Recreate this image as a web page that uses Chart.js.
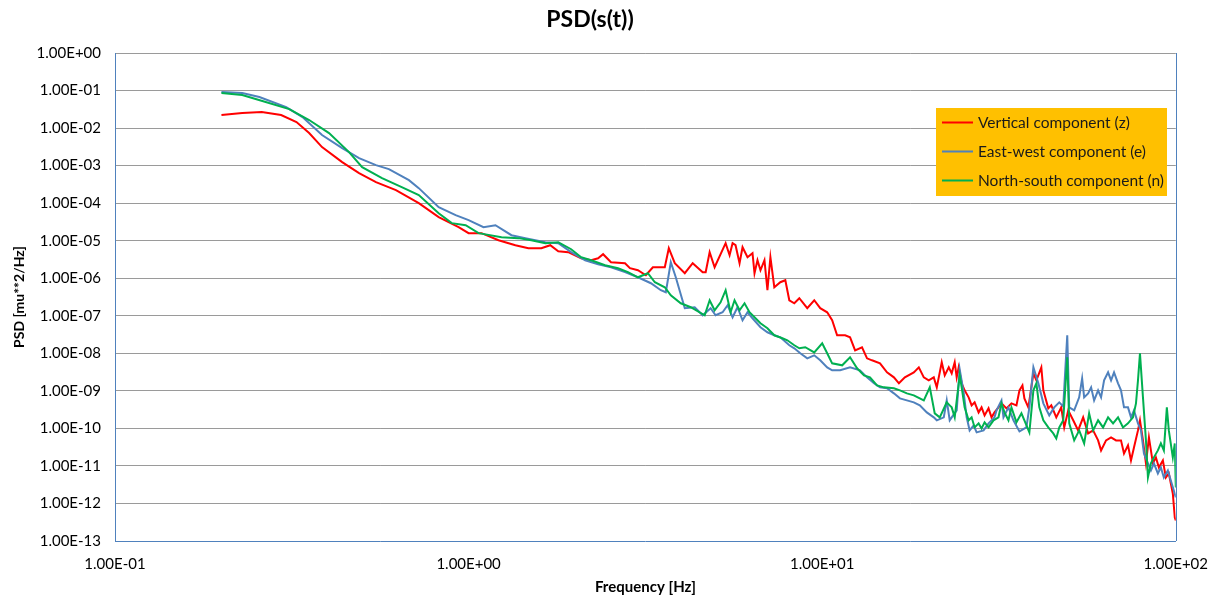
<!DOCTYPE html>
<html>
<head>
<meta charset="utf-8">
<script src="https://cdn.jsdelivr.net/npm/chart.js@4.4.1/dist/chart.umd.min.js"></script>
<style>
html,body{margin:0;padding:0;background:#fff;}
#wrap{position:relative;width:1222px;height:604px;}
</style>
</head>
<body>
<div id="wrap"><canvas id="c" width="1222" height="604"></canvas></div>
<script>
const chartTitle = 'PSD(s(t))';
const xTitle = 'Frequency [Hz]';
const yTitle = 'PSD [mu**2/Hz]';
const seriesNames = ['Vertical component (z)', 'East-west component (e)', 'North-south component (n)'];
const seriesColors = ['#FF0000', '#4F81BD', '#00B050'];

const xTickValues = [0.1, 1, 10, 100];
const xTickLabels = ['1.00E-01', '1.00E+00', '1.00E+01', '1.00E+02'];
const yTickValues = [1, 1e-1, 1e-2, 1e-3, 1e-4, 1e-5, 1e-6, 1e-7, 1e-8, 1e-9, 1e-10, 1e-11, 1e-12, 1e-13];
const yTickLabels = ['1.00E+00', '1.00E-01', '1.00E-02', '1.00E-03', '1.00E-04', '1.00E-05', '1.00E-06', '1.00E-07', '1.00E-08', '1.00E-09', '1.00E-10', '1.00E-11', '1.00E-12', '1.00E-13'];

const zFreq = [0.200,0.229,0.260,0.295,0.326,0.354,0.385,0.439,0.490,0.547,0.623,0.723,0.823,0.937,1.00,1.088,1.215,1.356,1.476,1.606,1.702,1.793,1.913,2.081,2.221,2.324,2.401,2.528,2.769,2.860,3.012,3.172,3.320,3.588,3.683,3.829,4.087,4.303,4.592,4.682,4.805,4.963,5.332,5.471,5.579,5.688,5.838,5.953,6.149,6.352,6.435,6.561,6.690,6.866,7.000,7.137,7.321,7.612,7.865,8.072,8.339,8.615,9.073,9.495,9.872,10.33,10.67,11.02,11.61,11.99,12.39,12.96,13.39,13.83,14.57,15.25,15.95,16.48,17.13,18.16,18.76,19.38,20.01,20.68,21.09,21.78,22.21,22.80,
  23.24,23.70,24.01,24.32,24.80,25.28,25.95,26.46,26.98,27.69,28.23,28.79,29.54,30.12,30.71,31.52,32.14,33.20,34.29,35.43,36.13,36.84,37.31,38.29,39.56,40.34,41.66,42.21,43.59,44.45,45.92,47.43,48.36,49.64,51.27,52.95,54.70,56.50,58.37,60.29,61.47,63.50,65.60,67.77,69.99,71.37,73.25,74.69,76.16,78.17,79.19,80.75,82.33,83.95,86.15,87.85,89.57,91.93,93.73,95.56,98.07,99.35,100];
const zPsd = [2.22e-2,2.51e-2,2.67e-2,2.22e-2,1.45e-2,7.36e-3,3.11e-3,1.24e-3,6.31e-4,3.63e-4,2.22e-4,1.00e-4,4.23e-5,2.29e-5,1.59e-5,1.59e-5,1.03e-5,7.59e-6,6.31e-6,6.31e-6,7.59e-6,5.25e-6,4.94e-6,3.41e-6,3.02e-6,3.41e-6,4.37e-6,2.67e-6,2.51e-6,1.85e-6,1.63e-6,1.20e-6,1.96e-6,1.96e-6,6.31e-6,2.51e-6,1.36e-6,2.51e-6,1.45e-6,1.45e-6,4.94e-6,1.96e-6,8.58e-6,4.11e-6,8.58e-6,7.59e-6,2.51e-6,6.71e-6,3.63e-6,4.64e-6,1.36e-6,3.02e-6,1.63e-6,3.02e-6,4.79e-7,3.63e-6,5.75e-7,7.82e-7,8.84e-7,2.59e-7,2.15e-7,2.93e-7,1.59e-7,2.59e-7,1.59e-7,1.24e-7,7.59e-8,3.02e-8,3.02e-8,2.67e-8,1.20e-8,1.45e-8,7.36e-9,6.51e-9,5.41e-9,3.11e-9,2.29e-9,1.59e-9,2.29e-9,3.11e-9,4.23e-9,2.29e-9,1.91e-9,2.29e-9,1.24e-9,5.75e-9,2.59e-9,4.23e-9,
  2.93e-9,5.75e-9,2.29e-9,4.23e-9,1.59e-9,1.03e-9,6.71e-10,4.11e-10,4.94e-10,2.67e-10,3.63e-10,2.22e-10,3.42e-10,1.97e-10,2.67e-10,3.63e-10,4.64e-10,3.42e-10,4.64e-10,4.11e-10,1.03e-9,1.40e-9,6.31e-10,3.63e-10,2.93e-9,1.91e-9,4.23e-9,1.03e-9,3.42e-10,4.11e-10,1.97e-10,3.63e-10,1.06e-10,3.02e-10,1.64e-10,8.84e-11,1.97e-10,7.36e-11,8.84e-11,4.79e-11,2.59e-11,4.79e-11,5.75e-11,4.79e-11,4.79e-11,2.15e-11,3.52e-11,1.40e-11,3.11e-11,8.84e-11,1.64e-10,4.79e-11,1.17e-11,5.75e-11,1.17e-11,1.69e-11,9.12e-12,1.40e-11,4.94e-12,6.31e-12,1.85e-12,4.23e-13,3.52e-13];

const eFreq = [0.200,0.229,0.256,0.305,0.339,0.385,0.439,0.490,0.547,0.595,0.678,0.723,0.823,0.919,1.00,1.102,1.191,1.322,1.447,1.648,1.793,1.950,2.136,2.324,2.528,2.769,3.012,3.278,3.497,3.612,3.731,3.854,4.087,4.359,4.592,4.836,4.995,5.228,5.401,5.579,5.761,5.953,6.149,6.352,6.690,7.000,7.321,7.612,8.072,8.339,8.670,9.073,9.495,9.872,10.33,10.67,11.24,11.99,12.79,13.39,14.01,14.57,15.25,15.95,16.59,17.36,18.16,18.88,19.76,20.68,21.09,22.07,22.50,22.94,
  23.24,24.01,24.48,25.12,25.62,26.12,26.81,27.34,28.60,29.54,30.71,31.12,32.14,32.56,33.63,34.74,36.13,37.80,38.54,39.56,40.86,42.21,43.87,45.32,46.82,48.05,49.32,49.96,51.60,53.30,54.34,55.06,56.50,57.61,58.75,60.29,61.47,62.69,64.34,65.60,66.89,68.65,69.99,71.37,73.25,74.69,76.16,78.17,79.71,81.27,83.41,85.04,86.71,88.99,90.74,92.52,94.96,96.81,98.71,100];
const ePsd = [9.12e-2,8.58e-2,6.71e-2,3.63e-2,1.97e-2,6.51e-3,2.93e-3,1.59e-3,1.03e-3,8.06e-4,4.11e-4,2.51e-4,7.82e-5,4.79e-5,3.52e-5,2.29e-5,2.59e-5,1.40e-5,1.17e-5,9.12e-6,8.58e-6,4.94e-6,3.02e-6,2.36e-6,1.96e-6,1.45e-6,1.06e-6,7.36e-7,4.79e-7,4.23e-7,2.67e-6,1.06e-6,1.59e-7,1.69e-7,1.03e-7,1.59e-7,1.03e-7,1.24e-7,1.91e-7,9.12e-8,1.69e-7,7.59e-8,1.24e-7,8.58e-8,4.94e-8,3.63e-8,3.02e-8,2.67e-8,1.64e-8,1.36e-8,1.00e-8,7.36e-9,8.84e-9,6.51e-9,4.23e-9,3.52e-9,3.52e-9,4.23e-9,3.52e-9,2.29e-9,1.59e-9,1.24e-9,1.17e-9,8.58e-10,6.31e-10,5.58e-10,4.94e-10,4.11e-10,2.67e-10,1.97e-10,1.64e-10,1.97e-10,5.58e-10,1.64e-10,
  1.97e-10,3.02e-10,3.75e-9,9.12e-10,1.97e-10,8.84e-11,1.20e-10,7.82e-11,8.84e-11,1.36e-10,1.97e-10,3.02e-10,5.58e-10,1.97e-10,3.63e-10,1.64e-10,8.32e-11,1.06e-10,3.63e-10,4.23e-9,1.59e-9,4.64e-10,2.22e-10,3.63e-10,4.94e-10,3.86e-10,3.02e-8,3.63e-10,3.02e-10,6.71e-10,2.15e-9,6.71e-10,8.58e-10,1.24e-9,5.58e-10,1.03e-9,6.71e-10,1.91e-9,3.11e-9,1.91e-9,3.11e-9,1.59e-9,1.03e-9,3.63e-10,3.63e-10,1.97e-10,3.02e-10,1.36e-10,8.84e-11,2.15e-11,1.17e-11,7.59e-12,1.17e-11,6.31e-12,9.12e-12,4.94e-12,7.59e-12,4.11e-12,2.22e-12,1.45e-12];

const nFreq = [0.200,0.229,0.261,0.311,0.354,0.403,0.459,0.500,0.569,0.647,0.723,0.823,0.896,0.981,1.067,1.239,1.383,1.504,1.648,1.793,1.950,2.081,2.221,2.432,2.646,2.823,3.012,3.214,3.363,3.588,3.731,3.981,4.248,4.652,4.805,4.963,5.160,5.332,5.507,5.651,5.838,6.030,6.229,6.435,6.690,7.000,7.321,7.716,7.970,8.339,8.615,8.957,9.495,10.00,10.33,10.67,11.39,11.99,12.55,13.13,13.65,14.29,14.95,15.95,16.59,17.36,18.16,19.38,20.15,20.81,21.50,22.50,22.94,
  23.24,23.70,24.48,24.80,25.28,25.95,26.46,26.98,27.69,28.23,28.79,29.54,30.51,31.52,32.14,32.77,33.63,34.29,35.43,36.60,37.31,38.54,39.56,40.34,41.12,42.21,43.59,45.03,45.92,46.82,48.05,49.32,49.96,51.60,53.30,55.06,56.87,58.37,60.29,62.28,64.34,66.46,68.65,70.91,73.25,75.67,77.16,78.17,79.19,80.75,82.33,83.41,85.04,86.71,88.99,90.74,92.52,94.34,95.56,98.07,99.35,100];
const nPsd = [8.58e-2,7.59e-2,5.25e-2,3.21e-2,1.64e-2,7.36e-3,2.29e-3,9.12e-4,4.64e-4,2.67e-4,1.64e-4,5.41e-5,2.93e-5,2.59e-5,1.59e-5,1.24e-5,1.17e-5,1.03e-5,8.58e-6,9.12e-6,5.93e-6,3.63e-6,3.02e-6,2.22e-6,1.85e-6,1.45e-6,1.06e-6,1.36e-6,7.82e-7,5.75e-7,3.52e-7,2.15e-7,1.69e-7,1.03e-7,2.59e-7,1.40e-7,2.29e-7,4.79e-7,1.24e-7,2.59e-7,1.40e-7,2.15e-7,1.24e-7,9.12e-8,6.31e-8,4.64e-8,3.02e-8,2.51e-8,2.22e-8,1.64e-8,1.36e-8,1.45e-8,1.06e-8,1.85e-8,1.00e-8,5.41e-9,4.79e-9,7.82e-9,3.98e-9,2.59e-9,2.29e-9,1.40e-9,1.24e-9,1.17e-9,1.03e-9,8.58e-10,7.59e-10,5.58e-10,1.24e-9,2.51e-10,1.97e-10,4.94e-10,4.11e-10,
  3.63e-10,1.97e-10,2.59e-9,1.24e-9,3.63e-10,1.64e-10,1.97e-10,1.06e-10,1.36e-10,1.00e-10,1.45e-10,1.06e-10,1.64e-10,1.97e-10,4.64e-10,2.67e-10,1.64e-10,3.63e-10,1.45e-10,2.51e-10,1.64e-10,7.82e-11,1.03e-9,1.59e-9,3.63e-10,1.64e-10,1.06e-10,7.36e-11,5.41e-11,1.06e-10,1.64e-10,7.82e-9,1.36e-10,4.79e-11,8.84e-11,3.98e-11,2.51e-10,8.84e-11,1.64e-10,1.06e-10,1.97e-10,1.36e-10,1.97e-10,1.06e-10,1.36e-10,1.97e-10,4.64e-10,1.91e-9,1.00e-8,6.71e-10,4.79e-11,4.94e-12,1.17e-11,1.69e-11,2.59e-11,3.98e-11,2.59e-11,3.63e-10,8.84e-11,1.69e-11,3.98e-11,2.67e-12];

const FONT = 'Lato, "Open Sans", "Liberation Sans", sans-serif';
const AXIS_BLUE = '#4F81BD';

function pts(fx, py) { return fx.map((f, i) => ({ x: f, y: py[i] })); }

const rightBorder = {
  id: 'rightBorder',
  afterDatasetsDraw(chart) {
    const a = chart.chartArea, ctx = chart.ctx;
    ctx.save();
    ctx.strokeStyle = AXIS_BLUE;
    ctx.lineWidth = 1;
    ctx.beginPath();
    ctx.moveTo(Math.round(a.right) + 0.5, a.top);
    ctx.lineTo(Math.round(a.right) + 0.5, a.bottom);
    ctx.stroke();
    ctx.restore();
  }
};

const boxLegend = {
  id: 'boxLegend',
  afterDraw(chart) {
    const ctx = chart.ctx;
    const bx = 936, by = 108, bw = 231, bh = 88;
    ctx.save();
    ctx.fillStyle = '#FFC000';
    ctx.fillRect(bx, by, bw, bh);
    ctx.font = '15.5px ' + FONT;
    ctx.textBaseline = 'middle';
    ctx.textAlign = 'left';
    const rows = [122.5, 151.5, 180.5];
    seriesNames.forEach((name, i) => {
      ctx.strokeStyle = seriesColors[i];
      ctx.lineWidth = 2;
      ctx.beginPath();
      ctx.moveTo(942, rows[i]);
      ctx.lineTo(973, rows[i]);
      ctx.stroke();
      ctx.fillStyle = '#1a1a1a';
      ctx.fillText(name, 978, rows[i]);
    });
    ctx.restore();
  }
};

new Chart(document.getElementById('c'), {
  type: 'line',
  data: {
    datasets: [
      { label: seriesNames[0], data: pts(zFreq, zPsd), borderColor: seriesColors[0], backgroundColor: seriesColors[0], borderWidth: 2, pointRadius: 0, tension: 0, order: 3 },
      { label: seriesNames[1], data: pts(eFreq, ePsd), borderColor: seriesColors[1], backgroundColor: seriesColors[1], borderWidth: 2, pointRadius: 0, tension: 0, order: 2 },
      { label: seriesNames[2], data: pts(nFreq, nPsd), borderColor: seriesColors[2], backgroundColor: seriesColors[2], borderWidth: 2, pointRadius: 0, tension: 0, order: 1 }
    ]
  },
  options: {
    responsive: false,
    animation: false,
    events: [],
    layout: { padding: { left: 0, right: 42, top: 0, bottom: 0 } },
    plugins: {
      legend: { display: false },
      tooltip: { enabled: false },
      title: {
        display: true,
        text: chartTitle,
        color: '#000',
        font: { family: FONT, size: 23, weight: 'bold', lineHeight: 1.2 },
        padding: { top: 6, bottom: 19.4 }
      }
    },
    scales: {
      x: {
        type: 'logarithmic',
        min: 0.1,
        max: 100,
        afterBuildTicks(s) { s.ticks = xTickValues.map(v => ({ value: v })); },
        afterFit(s) { s.height = 63; },
        grid: { display: false, drawTicks: false },
        border: { display: true, color: AXIS_BLUE, width: 1 },
        ticks: {
          autoSkip: false,
          maxRotation: 0,
          padding: 14,
          color: '#000',
          font: { family: FONT, size: 15 },
          callback(v) { const i = xTickValues.findIndex(t => Math.abs(Math.log10(t) - Math.log10(v)) < 1e-6); return i >= 0 ? xTickLabels[i] : ''; }
        },
        title: {
          display: true,
          text: xTitle,
          color: '#000',
          font: { family: FONT, size: 15, weight: 'bold', lineHeight: 1.2 },
          padding: { top: 0, bottom: 8 }
        }
      },
      y: {
        type: 'logarithmic',
        min: 1e-13,
        max: 1,
        afterBuildTicks(s) { s.ticks = yTickValues.map(v => ({ value: v })); },
        afterFit(s) { s.width = 115; },
        grid: {
          display: true,
          drawTicks: false,
          color: (c) => (c.tick && c.tick.value <= 1.5e-13) ? 'rgba(0,0,0,0)' : '#9a9a9a',
          lineWidth: 1
        },
        border: { display: true, color: AXIS_BLUE, width: 1 },
        ticks: {
          autoSkip: false,
          padding: 14,
          color: '#000',
          font: { family: FONT, size: 15 },
          callback(v) { const i = yTickValues.findIndex(t => Math.abs(Math.log10(t) - Math.log10(v)) < 1e-6); return i >= 0 ? yTickLabels[i] : ''; }
        },
        title: {
          display: true,
          text: yTitle,
          color: '#000',
          font: { family: FONT, size: 14, weight: 'bold', lineHeight: 1.2 },
          padding: { top: 11, bottom: 0 }
        }
      }
    }
  },
  plugins: [rightBorder, boxLegend]
});
</script>
</body>
</html>
